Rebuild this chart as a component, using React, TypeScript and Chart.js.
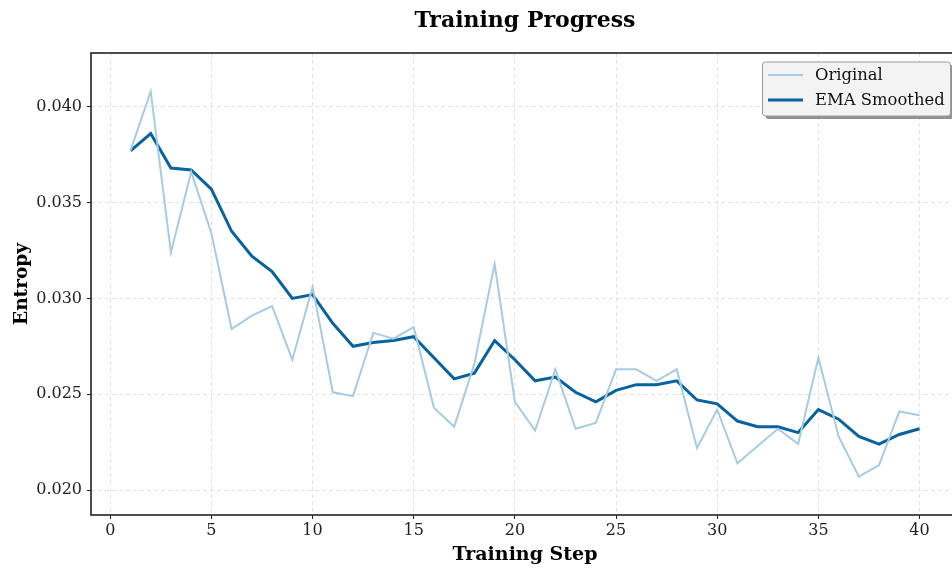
import React, { useEffect, useRef } from "react";
import { Chart, registerables } from "chart.js";

Chart.register(...registerables);

// ---- data ----
const steps = [
  1, 2, 3, 4, 5, 6, 7, 8, 9, 10, 11, 12, 13, 14, 15, 16, 17, 18, 19, 20,
  21, 22, 23, 24, 25, 26, 27, 28, 29, 30, 31, 32, 33, 34, 35, 36, 37, 38, 39, 40,
];
const originalEntropy = [
  0.0377, 0.0408, 0.0324, 0.0366, 0.0334, 0.0284, 0.0291, 0.0296, 0.0268, 0.0306,
  0.0251, 0.0249, 0.0282, 0.0279, 0.0285, 0.0243, 0.0233, 0.0266, 0.0318, 0.0246,
  0.0231, 0.0263, 0.0232, 0.0235, 0.0263, 0.0263, 0.0257, 0.0263, 0.0222, 0.0242,
  0.0214, 0.0223, 0.0232, 0.0224, 0.0269, 0.0228, 0.0207, 0.0213, 0.0241, 0.0239,
];
const emaEntropy = [
  0.0377, 0.0386, 0.0368, 0.0367, 0.0357, 0.0335, 0.0322, 0.0314, 0.0300, 0.0302,
  0.0287, 0.0275, 0.0277, 0.0278, 0.0280, 0.0269, 0.0258, 0.0261, 0.0278, 0.0268,
  0.0257, 0.0259, 0.0251, 0.0246, 0.0252, 0.0255, 0.0255, 0.0257, 0.0247, 0.0245,
  0.0236, 0.0233, 0.0233, 0.0230, 0.0242, 0.0237, 0.0228, 0.0224, 0.0229, 0.0232,
];
const xTickValues = [0, 5, 10, 15, 20, 25, 30, 35, 40];
const yTickValues = [0.02, 0.025, 0.03, 0.035, 0.04];
const seriesLabels = ["Original", "EMA Smoothed"];
const chartTitle = "Training Progress";
const xAxisTitle = "Training Step";
const yAxisTitle = "Entropy";

// ---- styling ----
const CANVAS_W = 972;
const CANVAS_H = 569;
const FONT = "'DejaVu Serif', serif";
const ORIGINAL_COLOR = "rgb(166, 204, 228)";
const EMA_COLOR = "rgb(8, 98, 158)";
const GRID_COLOR = "rgba(215, 215, 215, 0.7)";

const mplPlugin = {
  id: "mplDecor",
  afterDraw(chart: any) {
    const { ctx, chartArea: a } = chart;
    ctx.save();
    // frame
    ctx.strokeStyle = "#222";
    ctx.lineWidth = 1.6;
    ctx.strokeRect(a.left, a.top, a.right - a.left, a.bottom - a.top);

    // title
    ctx.fillStyle = "#000";
    ctx.font = `bold 22px ${FONT}`;
    ctx.textAlign = "center";
    ctx.textBaseline = "alphabetic";
    ctx.fillText(chartTitle, (a.left + a.right) / 2, 27);

    // legend
    const lx = 762.5, ly = 62, lw = 188, lh = 54, r = 3;
    const rr = (x: number, y: number, w: number, h: number) => {
      ctx.beginPath();
      ctx.moveTo(x + r, y);
      ctx.lineTo(x + w - r, y);
      ctx.quadraticCurveTo(x + w, y, x + w, y + r);
      ctx.lineTo(x + w, y + h - r);
      ctx.quadraticCurveTo(x + w, y + h, x + w - r, y + h);
      ctx.lineTo(x + r, y + h);
      ctx.quadraticCurveTo(x, y + h, x, y + h - r);
      ctx.lineTo(x, y + r);
      ctx.quadraticCurveTo(x, y, x + r, y);
      ctx.closePath();
    };
    rr(lx + 3, ly + 3, lw, lh);
    ctx.fillStyle = "rgba(100, 100, 100, 0.7)";
    ctx.fill();
    rr(lx, ly, lw, lh);
    ctx.fillStyle = "#f3f3f3";
    ctx.fill();
    ctx.strokeStyle = "#9a9a9a";
    ctx.lineWidth = 1;
    ctx.stroke();

    const ds = chart.data.datasets;
    const rows = [75, 100];
    ds.forEach((d: any, i: number) => {
      ctx.strokeStyle = d.borderColor;
      ctx.lineWidth = d.borderWidth;
      ctx.beginPath();
      ctx.moveTo(768, rows[i]);
      ctx.lineTo(803, rows[i]);
      ctx.stroke();
      ctx.fillStyle = "#111";
      ctx.font = `16.4px ${FONT}`;
      ctx.textAlign = "left";
      ctx.textBaseline = "middle";
      ctx.fillText(d.label, 815, rows[i] + 1);
    });
    ctx.restore();
  },
};

export default function App() {
  const canvasRef = useRef<HTMLCanvasElement | null>(null);

  useEffect(() => {
    const canvas = canvasRef.current;
    if (!canvas) return;
    const chart = new Chart(canvas, {
      type: "line",
      data: {
        datasets: [
          {
            label: seriesLabels[0],
            data: steps.map((s, i) => ({ x: s, y: originalEntropy[i] })),
            borderColor: ORIGINAL_COLOR,
            borderWidth: 2,
            pointRadius: 0,
            tension: 0,
          },
          {
            label: seriesLabels[1],
            data: steps.map((s, i) => ({ x: s, y: emaEntropy[i] })),
            borderColor: EMA_COLOR,
            borderWidth: 3,
            pointRadius: 0,
            tension: 0,
          },
        ],
      },
      options: {
        animation: false,
        responsive: false,
        events: [],
        layout: { padding: { left: 0, top: 53, right: CANVAS_W - 959, bottom: 0 } },
        plugins: {
          legend: { display: false },
          title: { display: false },
          tooltip: { enabled: false },
        },
        scales: {
          x: {
            type: "linear",
            min: -0.95,
            max: 41.95,
            afterBuildTicks: (axis: any) => {
              axis.ticks = xTickValues.map((v) => ({ value: v }));
            },
            afterFit: (scale: any) => {
              scale.height = CANVAS_H - 515;
            },
            ticks: {
              color: "#222",
              font: { family: FONT, size: 16 },
              padding: 2,
              maxRotation: 0,
              autoSkip: false,
              callback: (v: any) => String(v),
            },
            grid: {
              color: GRID_COLOR,
              lineWidth: 1,
              drawTicks: true,
              tickLength: 4,
              tickColor: "#222",
              tickWidth: 1,
              tickBorderDash: [1, 0],
            },
            border: { display: false, dash: [4, 3] },
            title: {
              display: true,
              text: xAxisTitle,
              color: "#000",
              font: { family: FONT, size: 19, weight: "bold" },
              padding: { top: 0, bottom: 3 },
            },
          },
          y: {
            type: "linear",
            min: 0.0187,
            max: 0.0428,
            afterBuildTicks: (axis: any) => {
              axis.ticks = yTickValues.map((v) => ({ value: v }));
            },
            afterFit: (scale: any) => {
              scale.width = 91;
            },
            ticks: {
              color: "#222",
              font: { family: FONT, size: 16 },
              padding: 5,
              autoSkip: false,
              callback: (v: any) => Number(v).toFixed(3),
            },
            grid: {
              color: GRID_COLOR,
              lineWidth: 1,
              drawTicks: true,
              tickLength: 4,
              tickColor: "#222",
              tickWidth: 1,
              tickBorderDash: [1, 0],
            },
            border: { display: false, dash: [4, 3] },
            title: {
              display: true,
              text: yAxisTitle,
              color: "#000",
              font: { family: FONT, size: 18.5, weight: "bold" },
              padding: { top: 11, bottom: 0 },
            },
          },
        },
      },
      plugins: [mplPlugin],
    } as any);
    return () => chart.destroy();
  }, []);

  return (
    <div
      style={{
        position: "fixed",
        left: 0,
        top: 0,
        width: 952,
        height: 569,
        overflow: "hidden",
        background: "#fff",
      }}
    >
      <canvas
        ref={canvasRef}
        width={CANVAS_W}
        height={CANVAS_H}
        style={{ display: "block", width: CANVAS_W, height: CANVAS_H }}
      />
    </div>
  );
}
